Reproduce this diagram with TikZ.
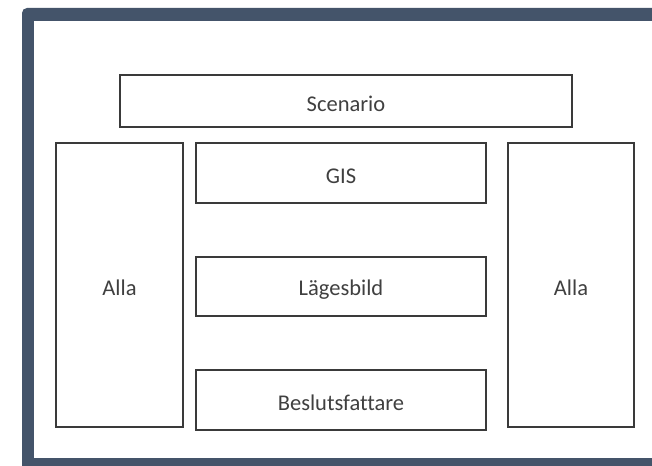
\documentclass[tikz,border=0pt]{standalone}
\usepackage{fontspec}
\setmainfont[Ligatures=NoCommon]{Carlito}
\definecolor{frame}{HTML}{44546A}
\definecolor{boxline}{HTML}{3A3A3A}
\definecolor{txt}{HTML}{404040}
\newcommand{\lowtxt}[1]{\raisebox{-3pt}[\height][\depth]{#1}}
\begin{document}
\begin{tikzpicture}[x=1pt,y=-1pt,
  blk/.style={draw=boxline,line width=1.8pt,fill=white,inner sep=0pt,text=txt,font=\fontsize{22.5}{26}\selectfont},
]
\useasboundingbox (0,0) rectangle (652,465);
\fill[white] (0,0) rectangle (652,465);
\fill[frame,rounded corners=5pt] (22,8) rectangle (700,520);
\fill[white] (34,21) rectangle (700,458);
\node[blk,minimum width=452pt,minimum height=52pt] (scen) at (346,101) {\lowtxt{Scenario}};
\node[blk,minimum width=127pt,minimum height=284pt] (allaL) at (119.5,285) {\lowtxt{Alla}};
\node[blk,minimum width=126pt,minimum height=284pt] (allaR) at (571,285) {\lowtxt{Alla}};
\node[blk,minimum width=290pt,minimum height=60pt] (gis) at (341,173) {\lowtxt{GIS}};
\node[blk,minimum width=290pt,minimum height=59pt] (lage) at (341,286.5) {\lowtxt{Lägesbild}};
\node[blk,minimum width=290pt,minimum height=60pt] (beslut) at (341,400) {\lowtxt{Beslutsfattare}};
\end{tikzpicture}
\end{document}
